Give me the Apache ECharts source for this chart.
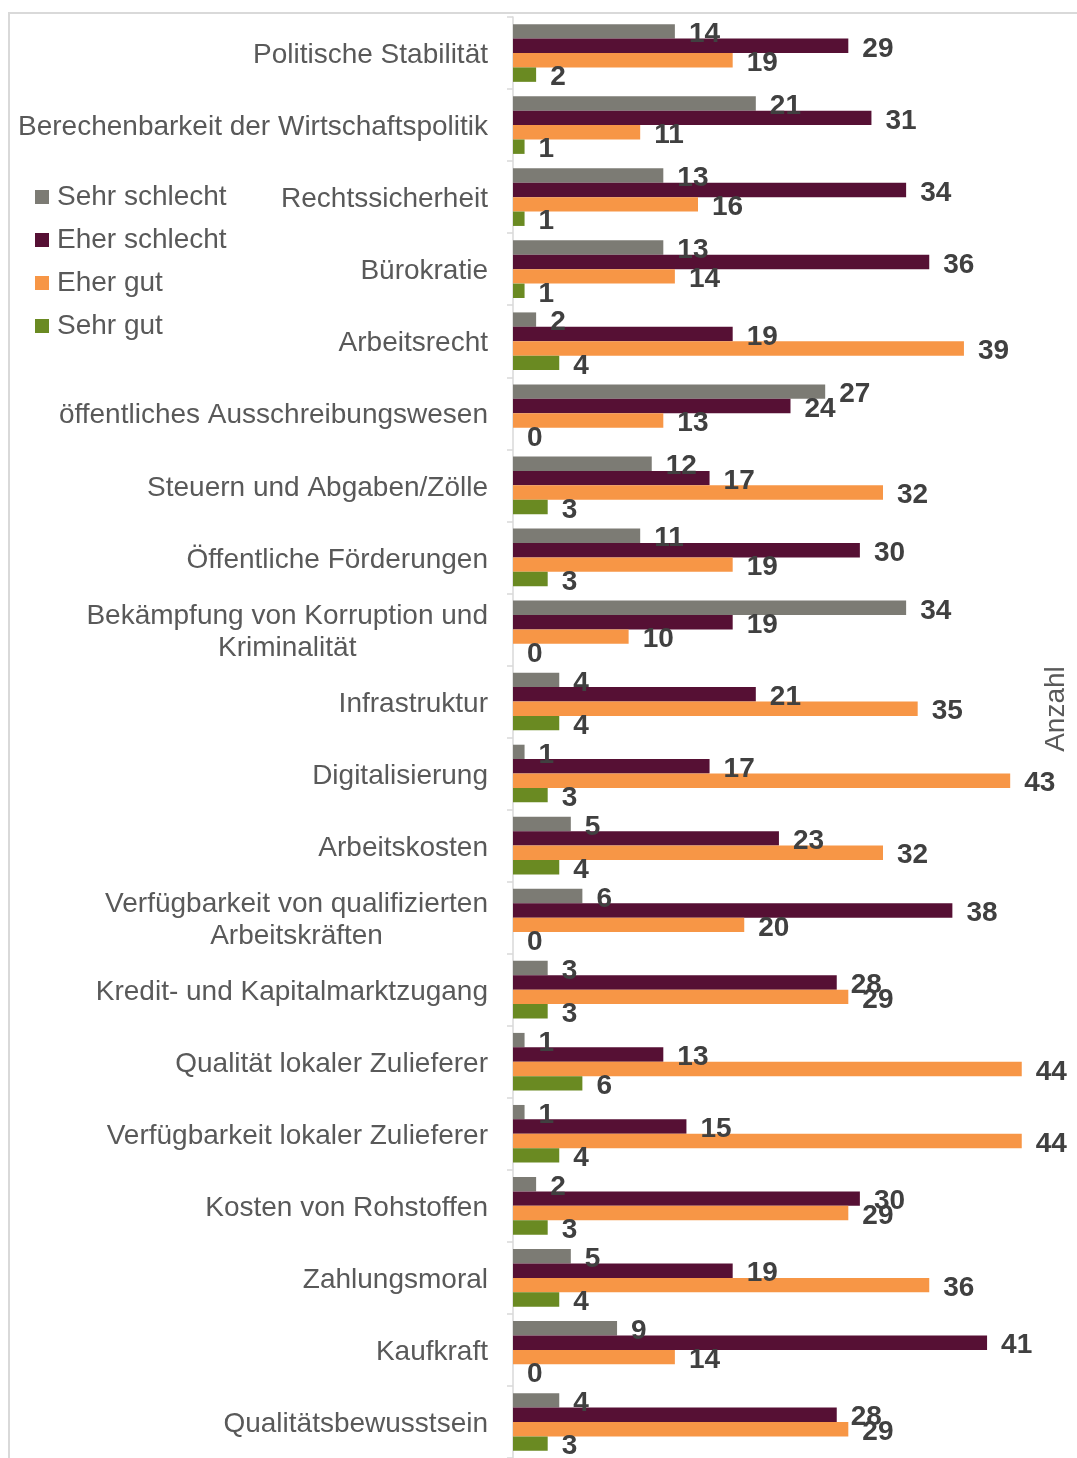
<!DOCTYPE html>
<html>
<head>
<meta charset="utf-8">
<script src="https://cdn.jsdelivr.net/npm/echarts@6/dist/echarts.min.js"></script>
<style>
  html, body { margin: 0; padding: 0; background: #fff; }
  #chart { width: 1077px; height: 1458px; }
</style>
</head>
<body>
<div id="chart"></div>
<script>
// categories, top to bottom
var categories = [
  'Politische Stabilität',
  'Berechenbarkeit der Wirtschaftspolitik',
  'Rechtssicherheit',
  'Bürokratie',
  'Arbeitsrecht',
  'öffentliches Ausschreibungswesen',
  'Steuern und Abgaben/Zölle',
  'Öffentliche Förderungen',
  'Bekämpfung von Korruption und\nKriminalität',
  'Infrastruktur',
  'Digitalisierung',
  'Arbeitskosten',
  'Verfügbarkeit von qualifizierten\nArbeitskräften',
  'Kredit- und Kapitalmarktzugang',
  'Qualität lokaler Zulieferer',
  'Verfügbarkeit lokaler Zulieferer',
  'Kosten von Rohstoffen',
  'Zahlungsmoral',
  'Kaufkraft',
  'Qualitätsbewusstsein'
];

var seriesNames = ['Sehr schlecht', 'Eher schlecht', 'Eher gut', 'Sehr gut'];

var sehrSchlecht = [14, 21, 13, 13, 2, 27, 12, 11, 34, 4, 1, 5, 6, 3, 1, 1, 2, 5, 9, 4];
var eherSchlecht = [29, 31, 34, 36, 19, 24, 17, 30, 19, 21, 17, 23, 38, 28, 13, 15, 30, 19, 41, 28];
var eherGut = [19, 11, 16, 14, 39, 13, 32, 19, 10, 35, 43, 32, 20, 29, 44, 44, 29, 36, 14, 29];
var sehrGut = [2, 1, 1, 1, 4, 0, 3, 3, 0, 4, 3, 4, 0, 3, 6, 4, 3, 4, 0, 3];

var colors = ['#7c7b74', '#561034', '#f79646', '#6a8a22'];
var font = 'Liberation Sans, Arial, sans-serif';

var chart = echarts.init(document.getElementById('chart'));

function makeSeries(name, data) {
  return {
    name: name,
    type: 'bar',
    barGap: 0,
    barCategoryGap: '20%',
    data: data,
    label: {
      show: true,
      position: 'right',
      distance: 14,
      offset: [0, 3],
      color: '#404040',
      fontSize: 28,
      fontWeight: 'bold',
      fontFamily: font
    }
  };
}

var option = {
  animation: false,
  color: colors,
  textStyle: { fontFamily: font },
  legend: {
    orient: 'vertical',
    left: 35,
    top: 183,
    padding: 0,
    icon: 'rect',
    itemWidth: 14,
    itemHeight: 14,
    itemGap: 15,
    data: seriesNames,
    textStyle: {
      color: '#595959',
      fontSize: 28,
      padding: [0, 0, 0, 3]
    }
  },
  grid: {
    left: 513,
    top: 17,
    width: 555,
    height: 1443,
    containLabel: false
  },
  xAxis: {
    type: 'value',
    min: 0,
    max: 48,
    show: false
  },
  yAxis: {
    type: 'category',
    inverse: true,
    data: categories,
    axisLine: { lineStyle: { color: '#d9d9d9', width: 1.5 } },
    axisTick: { show: true, length: 6, lineStyle: { color: '#d9d9d9', width: 1.5 } },
    axisLabel: {
      margin: 25,
      padding: [5, 0, 0, 0],
      formatter: function (v) {
        return v.split('\n').map(function (l) { return '{c|' + l + '}'; }).join('\n');
      },
      rich: {
        c: {
          align: 'center',
          color: '#595959',
          fontSize: 28,
          lineHeight: 32,
          fontFamily: font
        }
      }
    }
  },
  graphic: [
    {
      type: 'rect',
      shape: { x: 9, y: 13, width: 1200, height: 1600 },
      style: { fill: 'none', stroke: '#d9d9d9', lineWidth: 2 },
      silent: true
    },
    {
      type: 'text',
      x: 1056,
      y: 709,
      rotation: Math.PI / 2,
      style: {
        text: 'Anzahl',
        fill: '#595959',
        fontSize: 28,
        fontFamily: font,
        align: 'center',
        verticalAlign: 'middle'
      }
    }
  ],
  series: [
    makeSeries(seriesNames[0], sehrSchlecht),
    makeSeries(seriesNames[1], eherSchlecht),
    makeSeries(seriesNames[2], eherGut),
    makeSeries(seriesNames[3], sehrGut)
  ]
};

chart.setOption(option);
</script>
</body>
</html>
